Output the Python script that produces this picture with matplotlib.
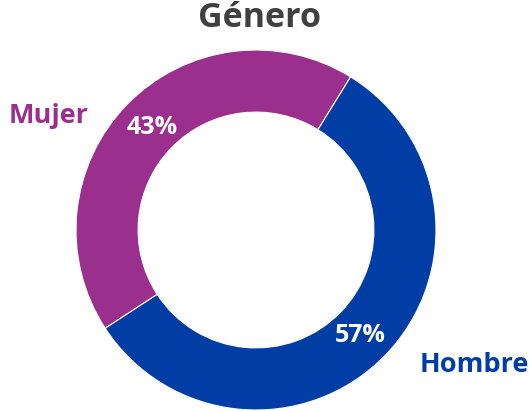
import matplotlib
matplotlib.use("Agg")
import matplotlib.pyplot as plt

categories = ["Mujer", "Hombre"]
values = [43, 57]
pct_labels = ["43%", "57%"]
colors = ["#9B2F8E", "#003DA5"]
title = "Género"

W, H = 529, 411
fig = plt.figure(figsize=(W/100, H/100), dpi=100)
ax = fig.add_axes([0, 0, 1, 1])

cx, cy, R = 256, H - 230, 180
wedges, _ = ax.pie(values, colors=colors, startangle=58.3, counterclock=True,
                   center=(cx, cy), radius=R,
                   wedgeprops=dict(width=R*0.345, edgecolor="white", linewidth=0.8),
                   frame=True)
ax.set_xlim(0, W)
ax.set_ylim(0, H)
ax.set_aspect("equal")
ax.axis("off")

font = "Open Sans"
ax.text(259, H - 18, title, ha="center", va="center", fontsize=24.5,
        fontweight="bold", color="#404040", family=font)
# percent labels
ax.text(152, H - 127, pct_labels[0], ha="center", va="center", fontsize=18,
        fontweight="bold", color="white", family=font)
ax.text(360, H - 335, pct_labels[1], ha="center", va="center", fontsize=18,
        fontweight="bold", color="white", family=font)
# category labels
ax.text(49, H - 116, categories[0], ha="center", va="center", fontsize=19.5,
        fontweight="bold", color=colors[0], family=font)
ax.text(474, H - 365, categories[1], ha="center", va="center", fontsize=19.5,
        fontweight="bold", color=colors[1], family=font)

fig.savefig("out.png", dpi=100)
